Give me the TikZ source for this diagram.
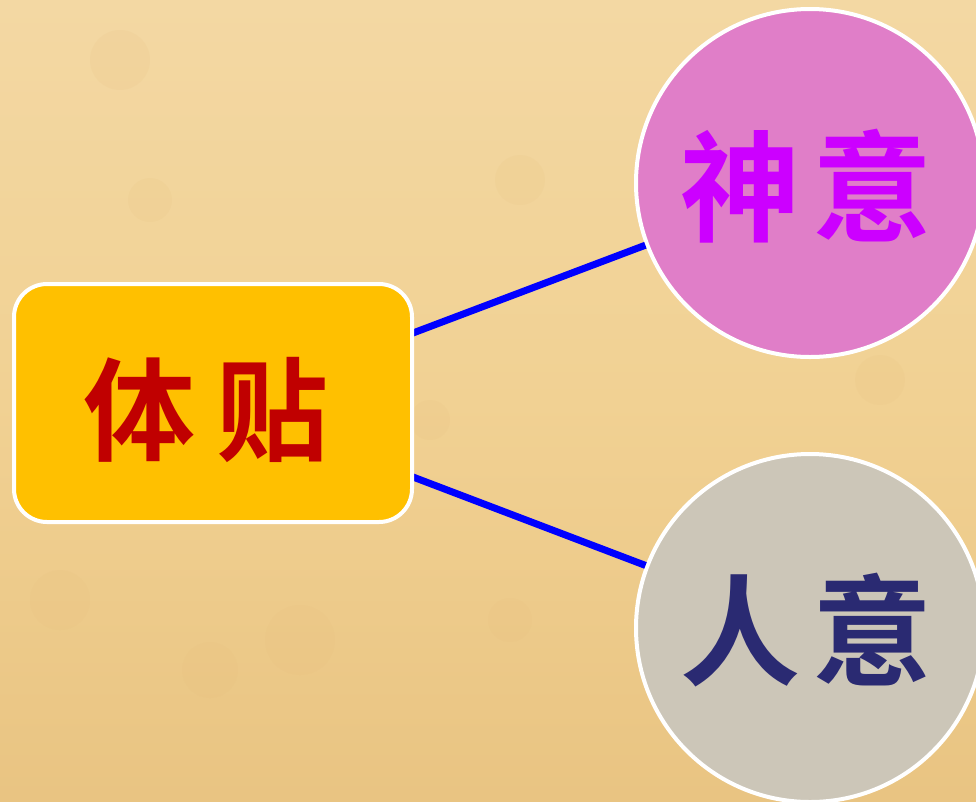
\documentclass[tikz,border=0pt]{standalone}
\usepackage{fontspec}
\newfontfamily\cjk{Noto Sans CJK SC Bold}
\definecolor{parch}{HTML}{F1D193}
\definecolor{parchdark}{HTML}{E9C482}
\definecolor{boxfill}{HTML}{FFC000}
\definecolor{boxtext}{HTML}{C00000}
\definecolor{pinkfill}{HTML}{E07EC8}
\definecolor{pinktext}{HTML}{CC00FF}
\definecolor{greyfill}{HTML}{CCC6B8}
\definecolor{navytext}{HTML}{2A2A72}
\definecolor{linkblue}{HTML}{0000FF}
\begin{document}
\begin{tikzpicture}[x=1pt,y=-1pt,
  mainbox/.style={draw=white,line width=4pt,fill=boxfill,rounded corners=33pt,
    minimum width=398pt,minimum height=238pt,inner sep=0pt},
  bubble/.style={circle,draw=white,line width=4pt,minimum size=348pt,inner sep=0pt},
  link/.style={draw=linkblue,line width=7pt}]
\useasboundingbox (0,0) rectangle (976,801);
\clip (0,0) rectangle (976,801);
\shade[top color=parch!85!white,bottom color=parchdark,middle color=parch] (0,0) rectangle (976,801);
\foreach \x/\y/\r in {120/60/30,520/180/25,300/640/35,210/670/28,510/620/22,60/600/30,430/420/20,880/380/25,150/200/22}
  \fill[parchdark!90!brown,opacity=0.12] (\x,\y) circle (\r);
\coordinate (la) at (413,333);
\coordinate (lb) at (413,477);
\node[bubble,fill=pinkfill] (b) at (810,183) {};
\node[bubble,fill=greyfill] (c) at (810,628) {};
\path[link] (la) -- (b);
\path[link] (lb) -- (c);
\node[mainbox] (a) at (213,403) {};
\node[font=\cjk\fontsize{112}{112}\selectfont,text=boxtext] (at) at (206,410) {体\hspace{22pt}贴};
\node[font=\cjk\fontsize{120}{120}\selectfont,text=pinktext] (bt) at (806,186) {神\hspace{12pt}意};
\node[font=\cjk\fontsize{120}{120}\selectfont,text=navytext] (ct) at (806,630) {人\hspace{12pt}意};
\end{tikzpicture}
\end{document}
